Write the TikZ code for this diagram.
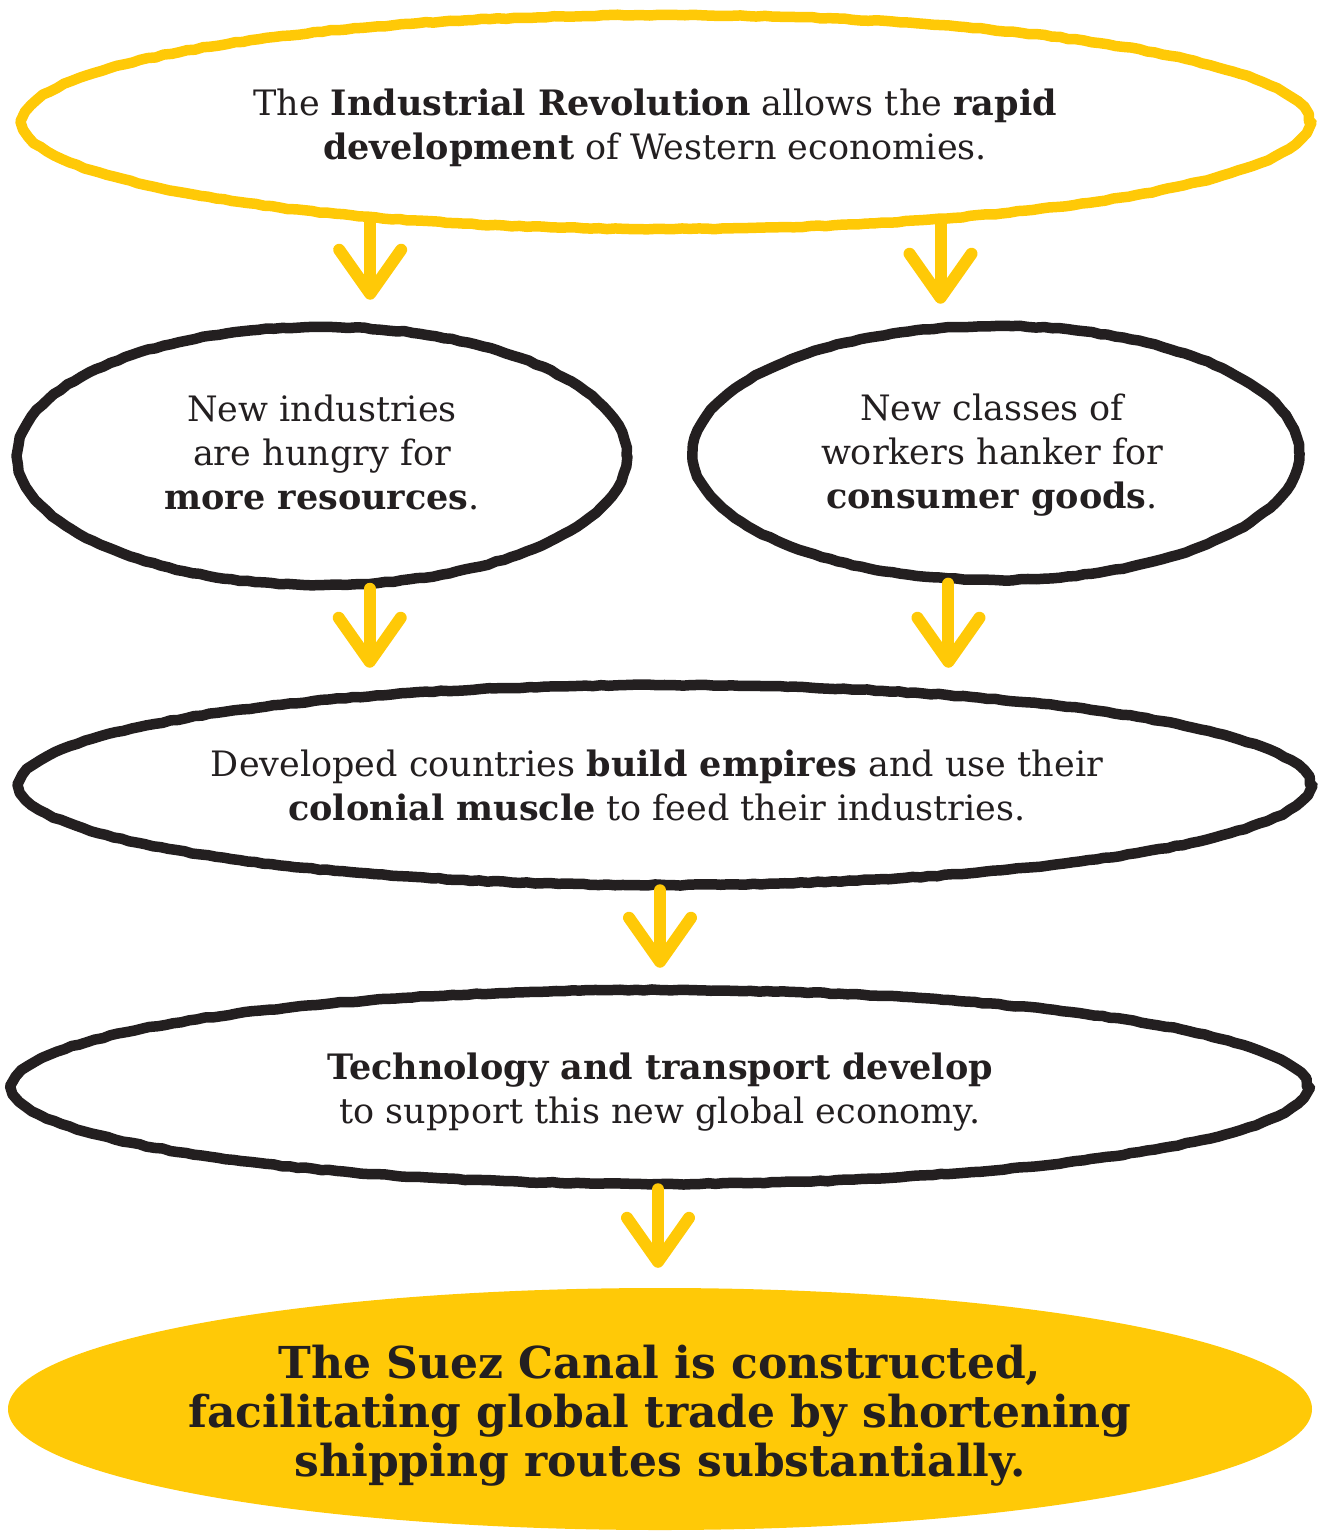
\documentclass[tikz,border=0pt]{standalone}
\usepackage{fontspec}
\setmainfont{DejaVu Serif}
\usetikzlibrary{shapes.geometric,arrows.meta,decorations.pathmorphing}
\definecolor{sy}{HTML}{FFC907}
\definecolor{ink}{HTML}{231F20}
\pgfmathsetseed{7}
\tikzset{
  x=1pt,y=-1pt,
  rough/.style={decorate, decoration={random steps, segment length=8pt, amplitude=0.6pt}},
  bubble/.style={ellipse, draw=ink, line width=10.5pt, line join=round, line cap=round, inner sep=0pt, rough},
  ybubble/.style={bubble, draw=sy},
  finalbubble/.style={ellipse, fill=sy, draw=none, inner sep=0pt},
  txt/.style={align=center, text=ink, inner sep=0pt, font=\fontsize{35}{44}\selectfont},
  finaltxt/.style={align=center, text=ink, inner sep=0pt, font=\bfseries\fontsize{44}{49}\selectfont},
  arr/.style={draw=sy, line width=12pt, line cap=round, line join=round,
     -{Straight Barb[length=44pt,width=62pt,round]}},
}
\begin{document}
\begin{tikzpicture}
\useasboundingbox (0,0) rectangle (1325,1536);
\node[ybubble, minimum width=1286pt, minimum height=214pt] (top) at (666,122) {};
\node[bubble, minimum width=609pt, minimum height=258pt] (left) at (322,456) {};
\node[bubble, minimum width=606pt, minimum height=254pt] (right) at (996,453) {};
\node[bubble, minimum width=1290pt, minimum height=200pt] (mid) at (665,785) {};
\node[bubble, minimum width=1294pt, minimum height=194pt] (tech) at (660,1087) {};
\node[finalbubble, minimum width=1304pt, minimum height=242pt] (final) at (660,1409) {};

\node[txt] (ttop) at (655,128)
  {The \textbf{Industrial Revolution} allows the \textbf{rapid}\\ \textbf{development} of Western economies.};
\node[txt] (tleft) at (322,452)
  {New industries\\ are hungry for\\ \textbf{more resources}.};
\node[txt] (tright) at (992,455)
  {New classes of\\ workers hanker for\\ \textbf{consumer goods}.};
\node[txt] (tmid) at (657,785)
  {Developed countries \textbf{build empires} and use their\\ \textbf{colonial muscle} to feed their industries.};
\node[txt] (ttech) at (660,1092)
  {\textbf{Technology and transport develop}\\ to support this new global economy.};
\node[finaltxt] (tfinal) at (660,1416)
  {The Suez Canal is constructed,\\ facilitating global trade by shortening\\ shipping routes substantially.};

\draw[arr, shorten >=22pt] ([xshift=9pt]top.198.6) -- ([xshift=9pt]top.198.6 |- left.north);
\draw[arr, shorten >=17pt] ([xshift=8pt]top.339.7) -- ([xshift=8pt]top.339.7 |- right.north);
\draw[arr, shorten >=12pt] ([xshift=2pt]left.289.9) -- ([xshift=2pt]left.289.9 |- mid.north);
\draw[arr, shorten >=12pt] (right.250.1) -- (right.250.1 |- mid.north);
\draw[arr, shorten >=17pt] ([xshift=-5pt]mid.south) -- ([xshift=-5pt]mid.south |- tech.north);
\draw[arr, shorten >=20pt] ([xshift=-2pt]tech.south) -- ([xshift=-2pt]tech.south |- final.north);
\end{tikzpicture}
\end{document}
